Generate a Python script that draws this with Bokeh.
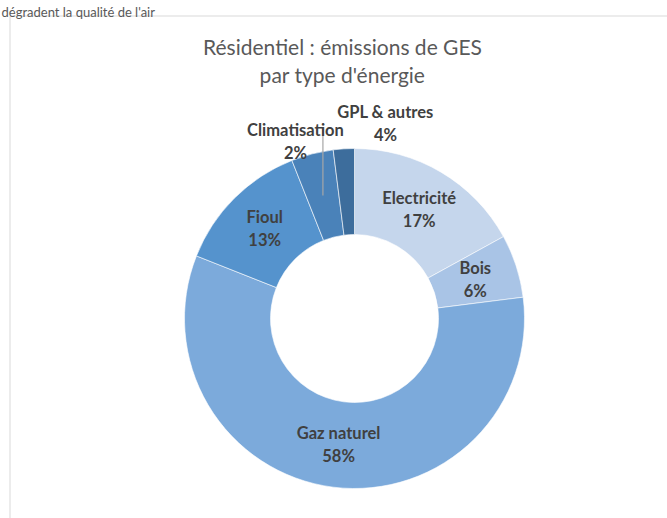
import math
from bokeh.plotting import figure
from bokeh.models import Range1d, ColumnDataSource
from bokeh.core.properties import value
from bokeh.embed import file_html
from bokeh.resources import INLINE

categories = ["Electricité", "Bois", "Gaz naturel", "Fioul", "Climatisation", "GPL & autres"]
shares = [17, 6, 58, 13, 4, 2]
pct_labels = ["17%", "6%", "58%", "13%", "2%", "4%"]
colors = ["#C5D6EC", "#A9C4E6", "#7CAADB", "#5593CD", "#4A82B9", "#3D6D9C"]

W, H = 667, 518
p = figure(width=W, height=H, x_range=Range1d(0, W), y_range=Range1d(0, H),
           output_backend="svg", toolbar_location=None, min_border=0)
p.axis.visible = False
p.grid.visible = False
p.outline_line_color = None
p.background_fill_color = "white"
p.border_fill_color = "white"

def Y(v):
    return H - v

# chart frame
p.quad(left=[9.5], right=[W + 5], top=[Y(15.5)], bottom=[-5], fill_color=None,
       line_color="#D9D9D9", line_width=1)

# text above the frame
p.text(x=[1], y=[Y(11)], text=["dégradent la qualité de l'air"], text_font=value("Lato"),
       text_font_size="13px", text_color="#595959", text_baseline="alphabetic", text_align="left")

# title
p.text(x=[342, 342], y=[Y(46), Y(74)], text=["Résidentiel : émissions de GES", "par type d'énergie"],
       text_font=value("Lato"), text_font_size="21px", text_color="#595959",
       text_baseline="middle", text_align="center")

cx, cy = 354, Y(318)
r_out, r_in = 170, 84
total = sum(shares)
starts, ends, mids = [], [], []
cum = 0
for s in shares:
    a0 = math.pi / 2 - 2 * math.pi * cum / total
    cum += s
    a1 = math.pi / 2 - 2 * math.pi * cum / total
    starts.append(a0)
    ends.append(a1)
    mids.append((a0 + a1) / 2)

src = ColumnDataSource(dict(start=starts, end=ends, color=colors, cat=categories))
p.annular_wedge(x=cx, y=cy, inner_radius=r_in, outer_radius=r_out, start_angle="start",
                end_angle="end", direction="clock", fill_color="color", line_color="white",
                line_width=0.6, source=src)

r_mid = (r_in + r_out) / 2
lx, ly, names, pcts = [], [], [], []
outside = {"Climatisation": (295, 141), "GPL & autres": (385, 123)}
for c, m, pl in zip(categories, mids, pct_labels):
    if c in outside:
        x0, y0 = outside[c][0], Y(outside[c][1])
    else:
        x0, y0 = cx + r_mid * math.cos(m), cy + r_mid * math.sin(m)
    lx.append(x0)
    ly.append(y0)
    names.append(c)
    pcts.append(pl)

# leader line for Climatisation
ci = categories.index("Climatisation")
ex, ey = cx + r_mid * math.cos(mids[ci]), cy + r_mid * math.sin(mids[ci])
p.line(x=[ex, ex], y=[Y(127), ey], line_color="#A6A6A6", line_width=1.2)

p.text(x=lx, y=[v + 11.5 for v in ly], text=names, text_font=value("Lato"), text_font_size="16.5px",
       text_font_style="bold", text_color="#404040", text_baseline="middle", text_align="center")
p.text(x=lx, y=[v - 11.5 for v in ly], text=pcts, text_font=value("Lato"), text_font_size="16.5px",
       text_font_style="bold", text_color="#404040", text_baseline="middle", text_align="center")

open("out.html", "w").write(file_html(p, INLINE))
